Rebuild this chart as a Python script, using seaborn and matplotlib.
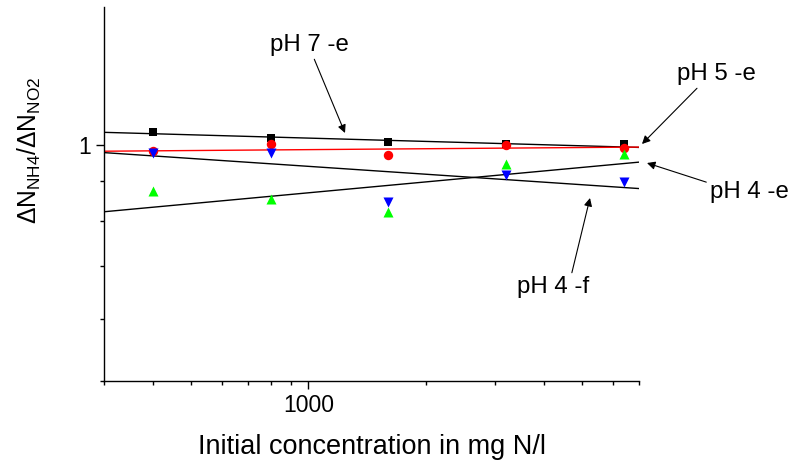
import numpy as np
import pandas as pd
import matplotlib
matplotlib.use("Agg")
import matplotlib.pyplot as plt
import matplotlib.ticker as mticker
import seaborn as sns

# data
conc = [400, 800, 1600, 3200, 6400]
ph7_e = [1.040, 1.021, 1.010, 1.004, 1.003]
ph5_e = [0.982, 1.002, 0.970, 1.000, 0.991]
ph4_f = [0.978, 0.978, 0.846, 0.917, 0.898]
ph4_e = [0.873, 0.854, 0.822, 0.945, 0.975]

fit_x = [300, 7000]
fit_ph7_e = [1.038, 0.993]
fit_ph5_e = [0.982, 0.994]
fit_ph4_f = [0.978, 0.880]
fit_ph4_e = [0.822, 0.951]

sns.set_style("ticks")
plt.rcParams['font.family'] = ['Liberation Sans', 'DejaVu Sans']
plt.rcParams['mathtext.default'] = 'regular'
plt.rcParams['text.color'] = 'black'
plt.rcParams['axes.labelcolor'] = 'black'
plt.rcParams['xtick.color'] = 'black'
plt.rcParams['ytick.color'] = 'black'

fig = plt.figure(figsize=(7.88, 4.61), dpi=100)
ax = fig.add_axes([104/788, 1-381/461, (639-104)/788, (381-7)/461])

series = [('pH 7 -e', ph7_e, 's', 'black', 40),
          ('pH 5 -e', ph5_e, 'o', 'red', 46),
          ('pH 4 -f', ph4_f, 'v', 'blue', 52),
          ('pH 4 -e', ph4_e, '^', 'lime', 52)]
for name, vals, mk, col, s in series:
    df = pd.DataFrame({'conc': conc, 'ratio': vals})
    sns.scatterplot(data=df, x='conc', y='ratio', marker=mk, color=col,
                    s=s, linewidth=0, ax=ax, zorder=3)

fits = [(fit_ph7_e, 'black'), (fit_ph5_e, 'red'), (fit_ph4_f, 'black'), (fit_ph4_e, 'black')]
for vals, col in fits:
    sns.lineplot(x=fit_x, y=vals, color=col, lw=1.0, ax=ax, estimator=None, sort=False, zorder=2)

ax.set_xscale('log')
ax.set_yscale('log')
ax.set_xlim(300, 7000)
ax.set_ylim(0.5, 1.5)

ax.xaxis.set_major_locator(mticker.FixedLocator([1000]))
ax.xaxis.set_minor_locator(mticker.FixedLocator([300, 400, 500, 600, 700, 800, 900,
                                                 2000, 3000, 4000, 5000, 6000, 7000]))
ax.xaxis.set_major_formatter(mticker.FixedFormatter(['1000']))
ax.xaxis.set_minor_formatter(mticker.NullFormatter())
ax.yaxis.set_major_locator(mticker.FixedLocator([1]))
ax.yaxis.set_minor_locator(mticker.FixedLocator([0.5, 0.6, 0.7, 0.8, 0.9]))
ax.yaxis.set_major_formatter(mticker.FixedFormatter(['1']))
ax.yaxis.set_minor_formatter(mticker.NullFormatter())

ax.tick_params(which='major', length=6, width=1, labelsize=16.5, color='black')
ax.tick_params(which='minor', length=3, width=1, color='black')
sns.despine(ax=ax)
for sp in ('left', 'bottom'):
    ax.spines[sp].set_linewidth(1.0)
    ax.spines[sp].set_color('black')

ax.set_xlabel('Initial concentration in mg N/l', fontsize=19.5, labelpad=12)
ax.set_ylabel(r'$\Delta N_{NH4}/\Delta N_{NO2}$', fontsize=17.7)
ax.yaxis.set_label_coords(-0.114, 0.618)

arrow = dict(arrowstyle='-|>', color='black', lw=0.8, mutation_scale=12,
             shrinkA=0, shrinkB=0)
def pix(x, y):
    return (x / 788, 1 - y / 461)

fs = 17.3
ax.annotate('pH 7 -e', xy=pix(345, 133), xytext=pix(309, 45), xycoords='figure fraction',
            textcoords='figure fraction', fontsize=fs, ha='center', va='center',
            arrowprops=dict(arrow, relpos=(0.55, 0.0)))
ax.annotate('pH 5 -e', xy=pix(642, 144), xytext=pix(716, 74), xycoords='figure fraction',
            textcoords='figure fraction', fontsize=fs, ha='center', va='center',
            arrowprops=dict(arrow, relpos=(0.3, 0.0)))
ax.annotate('pH 4 -e', xy=pix(647, 163), xytext=pix(749, 192), xycoords='figure fraction',
            textcoords='figure fraction', fontsize=fs, ha='center', va='center',
            arrowprops=dict(arrow, relpos=(0.0, 0.9)))
ax.annotate('pH 4 -f', xy=pix(590, 198), xytext=pix(553, 287), xycoords='figure fraction',
            textcoords='figure fraction', fontsize=fs, ha='center', va='center',
            arrowprops=dict(arrow, relpos=(0.75, 1.0)))

fig.savefig('out.png', dpi=100)
